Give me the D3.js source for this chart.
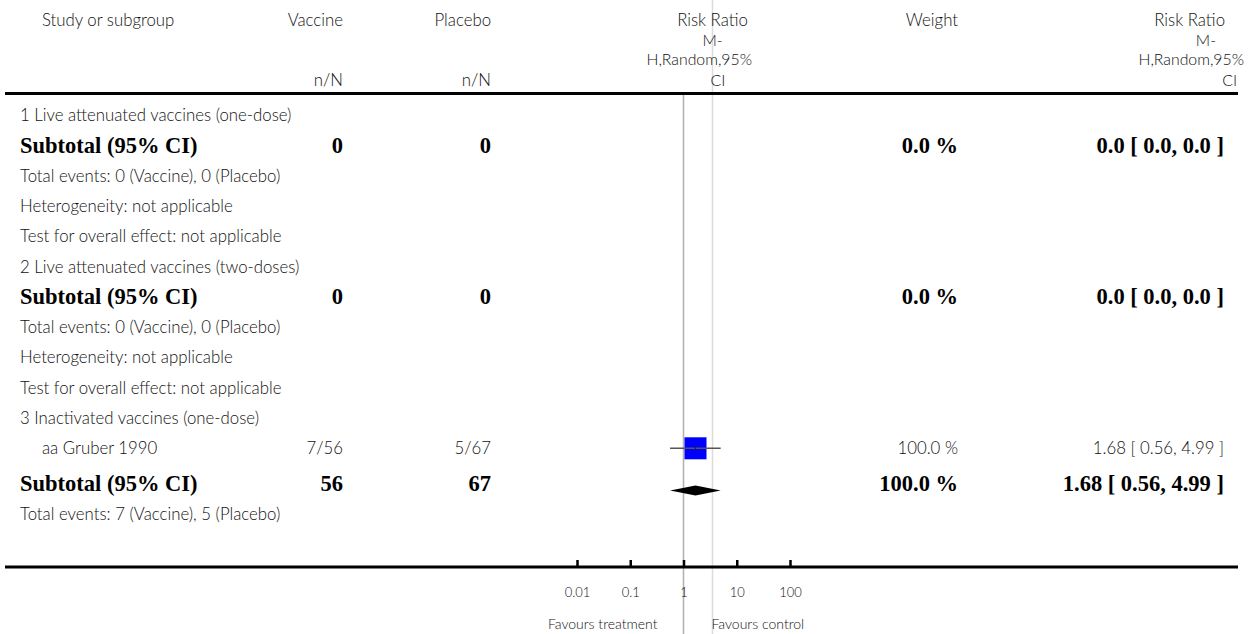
<!DOCTYPE html>
<html>
<head>
<meta charset="utf-8">
<script src="https://cdn.jsdelivr.net/npm/d3@7/dist/d3.min.js"></script>
<style>
  html, body { margin: 0; padding: 0; background: #fff; }
  svg { display: block; }
  .t { font-family: Lato, "Open Sans", sans-serif; font-size: 16.8px; font-weight: 300; fill: #111; }
  .h { font-family: Lato, "Open Sans", sans-serif; font-size: 15.8px; font-weight: 300; fill: #111; }
  .b { font-family: "Liberation Serif", "DejaVu Serif", serif; font-size: 22.5px; font-weight: bold; fill: #000; }
</style>
</head>
<body>
<svg id="chart" width="1253" height="634"></svg>
<script>
// ---------- data ----------
const subgroupNames = ["1 Live attenuated vaccines (one-dose)", "2 Live attenuated vaccines (two-doses)", "3 Inactivated vaccines (one-dose)"];
const studyGroup   = [2];
const studyNames   = ["aa Gruber 1990"];
const studyVaccine = ["7/56"];
const studyPlacebo = ["5/67"];
const studyRR      = [1.68];
const studyLo      = [0.56];
const studyHi      = [4.99];
const studyWeight  = [100.0];

const subVaccineN  = [0, 0, 56];
const subPlaceboN  = [0, 0, 67];
const subWeight    = [0.0, 0.0, 100.0];
const subRR        = [null, null, 1.68];
const subLo        = [null, null, 0.56];
const subHi        = [null, null, 4.99];
const subEventsVac = [0, 0, 7];
const subEventsPla = [0, 0, 5];
const subHetero    = ["not applicable", "not applicable", null];
const subOverall   = ["not applicable", "not applicable", null];

const tickValues = [0.01, 0.1, 1, 10, 100];
const tickLabels = ["0.01", "0.1", "1", "10", "100"];
const rrHeader   = ["Risk Ratio", "M-", "H,Random,95%", "CI"];
const favours    = ["Favours treatment", "Favours control"];

// ---------- build rows ----------
const fmt2 = d3.format(".2f");
const fmtCI = (r, l, h) => r == null ? "0.0 [ 0.0, 0.0 ]" : `${fmt2(r)} [ ${fmt2(l)}, ${fmt2(h)} ]`;
const rows = [];
subgroupNames.forEach((name, g) => {
  rows.push({type: "group", label: name});
  studyNames.forEach((s, i) => {
    if (studyGroup[i] !== g) return;
    rows.push({type: "study", label: s, vac: studyVaccine[i], pla: studyPlacebo[i],
      rr: studyRR[i], lo: studyLo[i], hi: studyHi[i], w: studyWeight[i]});
  });
  rows.push({type: "subtotal", label: "Subtotal (95% CI)", vac: String(subVaccineN[g]), pla: String(subPlaceboN[g]),
    rr: subRR[g], lo: subLo[g], hi: subHi[g], w: subWeight[g]});
  rows.push({type: "note", label: `Total events: ${subEventsVac[g]} (Vaccine), ${subEventsPla[g]} (Placebo)`});
  if (subHetero[g]) rows.push({type: "note", label: `Heterogeneity: ${subHetero[g]}`});
  if (subOverall[g]) rows.push({type: "note", label: `Test for overall effect: ${subOverall[g]}`});
});
// vertical positions
let yy = 115;
rows.forEach((r, i) => {
  if (i > 0) {
    yy += 30.3;
    if (r.type === "subtotal" && rows[i - 1].type === "study") yy += 5;
  }
  r.y = yy;
});

// ---------- layout ----------
const svg = d3.select("#chart");
const W = 1253, H = 634;
const x = d3.scaleLog().domain([0.01, 100]).range([577, 790]);
const colStudy = 20, colVac = 343, colPla = 491, colWeight = 958, colRR = 1224;
const lineL = 5, lineR = 1238, headerLineY = 93.5, axisY = 567;

// vertical reference lines
const dividerX = x(1) + 29;
svg.append("line").attr("x1", dividerX).attr("x2", dividerX).attr("y1", 0).attr("y2", H)
  .attr("stroke", "#dcdcdc").attr("stroke-width", 1.5);
svg.append("line").attr("x1", x(1)).attr("x2", x(1)).attr("y1", headerLineY).attr("y2", H)
  .attr("stroke", "#b0b0b0").attr("stroke-width", 1.5);

// header
const hdr = svg.append("g");
hdr.append("text").attr("class", "t").attr("x", 42).attr("y", 26).text("Study or subgroup");
hdr.append("text").attr("class", "t").attr("x", colVac).attr("y", 26).attr("text-anchor", "end").text("Vaccine");
hdr.append("text").attr("class", "t").attr("x", colPla).attr("y", 26).attr("text-anchor", "end").text("Placebo");
hdr.append("text").attr("class", "t").attr("x", colVac).attr("y", 86).attr("text-anchor", "end").text("n/N");
hdr.append("text").attr("class", "t").attr("x", colPla).attr("y", 86).attr("text-anchor", "end").text("n/N");
hdr.append("text").attr("class", "t").attr("x", colWeight).attr("y", 26).attr("text-anchor", "end").text("Weight");
const hdrY = [26, 45.5, 65, 86];
// left RR header (plot column)
const leftAnch = [["middle", dividerX], ["middle", dividerX], ["end", 752], ["middle", 718]];
rrHeader.forEach((t, i) => hdr.append("text").attr("class", i === 0 ? "t" : "h").attr("x", leftAnch[i][1]).attr("y", hdrY[i])
  .attr("text-anchor", leftAnch[i][0]).text(t));
// right RR header
const rightEnd = [1225, 1216, 1244, 1237];
rrHeader.forEach((t, i) => hdr.append("text").attr("class", i === 0 ? "t" : "h").attr("x", rightEnd[i]).attr("y", hdrY[i])
  .attr("text-anchor", "end").text(t));

// horizontal rules
svg.append("line").attr("x1", lineL).attr("x2", lineR).attr("y1", headerLineY).attr("y2", headerLineY)
  .attr("stroke", "#000").attr("stroke-width", 3);
svg.append("line").attr("x1", lineL).attr("x2", lineR).attr("y1", axisY).attr("y2", axisY)
  .attr("stroke", "#000").attr("stroke-width", 3);

// rows text
const rg = svg.append("g");
rows.forEach(r => {
  const bold = r.type === "subtotal";
  const cls = bold ? "b" : "t";
  const dy = bold ? "0.33em" : "0.36em";
  rg.append("text").attr("class", cls).attr("x", r.type === "study" ? 42 : colStudy).attr("y", r.y).attr("dy", dy).text(r.label);
  if (r.type === "study" || r.type === "subtotal") {
    rg.append("text").attr("class", cls).attr("x", colVac).attr("y", r.y).attr("dy", dy).attr("text-anchor", "end").text(r.vac);
    rg.append("text").attr("class", cls).attr("x", colPla).attr("y", r.y).attr("dy", dy).attr("text-anchor", "end").text(r.pla);
    rg.append("text").attr("class", cls).attr("x", colWeight).attr("y", r.y).attr("dy", dy).attr("text-anchor", "end")
      .text(d3.format(".1f")(r.w) + " %");
    rg.append("text").attr("class", cls).attr("x", colRR).attr("y", r.y).attr("dy", dy).attr("text-anchor", "end")
      .text(fmtCI(r.rr, r.lo, r.hi));
  }
});

// marks
const sizeScale = d3.scaleSqrt().domain([0, 100]).range([0, 22]);
rows.filter(r => r.type === "study").forEach(r => {
  const s = sizeScale(r.w);
  rg.append("rect").attr("x", x(r.rr) - s / 2).attr("y", r.y - s / 2).attr("width", s).attr("height", s)
    .attr("fill", "#0000ff");
  rg.append("line").attr("x1", x(r.lo)).attr("x2", x(r.hi)).attr("y1", r.y).attr("y2", r.y)
    .attr("stroke", "#555").attr("stroke-width", 1.6);
  rg.append("line").attr("x1", x(r.rr)).attr("x2", x(r.rr)).attr("y1", r.y - 3).attr("y2", r.y + 3)
    .attr("stroke", "#222").attr("stroke-width", 1);
});
rows.filter(r => r.type === "subtotal" && r.rr != null).forEach(r => {
  const cy = r.y + 7;
  rg.append("path").attr("d", `M${x(r.lo)},${cy} L${x(r.rr)},${cy - 5} L${x(r.hi)},${cy} L${x(r.rr)},${cy + 5} Z`)
    .attr("fill", "#000");
});

// axis
const axis = d3.axisBottom(x).tickValues(tickValues).tickFormat((d, i) => tickLabels[i])
  .tickSizeInner(-7).tickSizeOuter(0).tickPadding(21);
const ag = svg.append("g").attr("transform", `translate(0,${axisY})`).call(axis);
ag.select(".domain").remove();
ag.selectAll(".tick line").attr("stroke", "#000").attr("stroke-width", 2.5);
ag.selectAll(".tick text").attr("class", "t").style("font-size", "13px").attr("fill", "#111");

// favours labels
svg.append("text").attr("class", "t").style("font-size", "14px").attr("x", dividerX - 55).attr("y", 629)
  .attr("text-anchor", "end").text(favours[0]);
svg.append("text").attr("class", "t").style("font-size", "14px").attr("x", dividerX - 1).attr("y", 629)
  .text(favours[1]);
</script>
</body>
</html>
